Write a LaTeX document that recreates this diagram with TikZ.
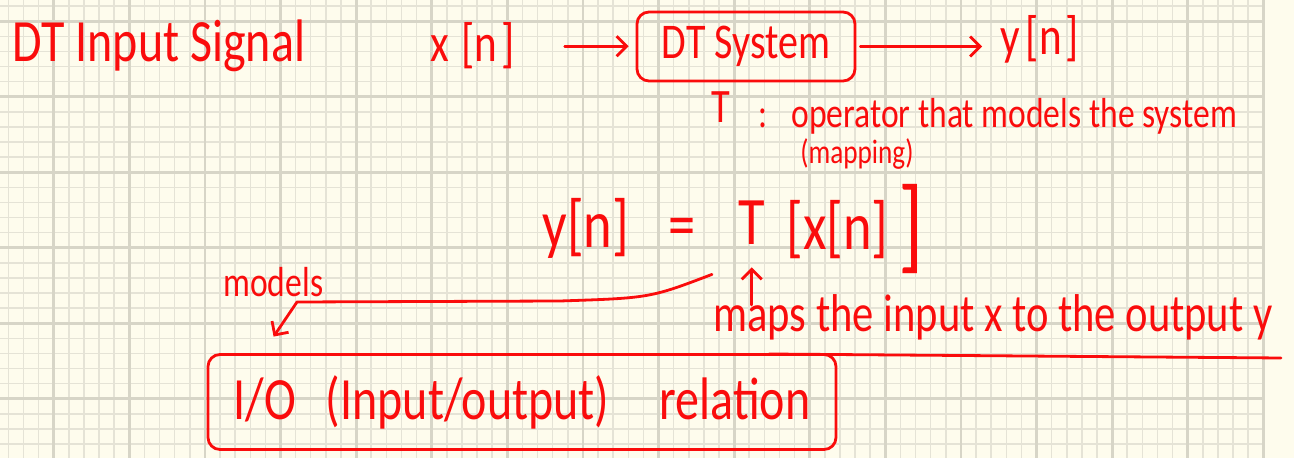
\documentclass[tikz,border=0pt]{standalone}
\usepackage{fontspec}
\newfontfamily\handfont[FakeStretch=0.8]{Carlito}
\newcommand\handsize[1]{\handfont\fontsize{#1}{#1}\selectfont}
\usetikzlibrary{arrows.meta,positioning}

\definecolor{paper}{RGB}{254,252,237}
\definecolor{gridminor}{RGB}{229,227,214}
\definecolor{gridmajor}{RGB}{215,213,199}
\definecolor{penred}{RGB}{250,12,12}

\tikzset{
	hand/.style={text=penred, inner sep=0pt, anchor=base west},
	pen/.style={draw=penred, line width=1.4pt, line cap=round, line join=round},
	barb/.style={pen, -{Straight Barb[length=5pt,width=10pt]}},
	boxed/.style={pen, rounded corners=6pt, text=penred, inner sep=0pt},
}

\begin{document}
\begin{tikzpicture}[x=0.5pt,y=-0.5pt]

		\fill[paper] (0,0) rectangle (1294,458);
		\useasboundingbox (0,0) rectangle (1294,458);

		\foreach \k in {0,...,83}
			\draw[gridminor, line width=0.75pt] ({1263.3-15.12*\k},0) -- ({1263.3-15.12*\k},458);
		\foreach \k in {-1,...,28}
			\draw[gridminor, line width=0.75pt] (0,{21.3+15.1*\k}) -- (1265,{21.3+15.1*\k});
		\foreach \k in {0,5,...,80}
			\draw[gridmajor, line width=1.4pt] ({1263.3-15.12*\k},0) -- ({1263.3-15.12*\k},458);
		\foreach \k in {0,5,...,25}
			\draw[gridmajor, line width=1.4pt] (0,{21.3+15.1*\k}) -- (1265,{21.3+15.1*\k});

		\node[hand, font=\handsize{30}] (title) at (12,62) {DT Input Signal};
		\node[hand, font=\handsize{27}] (xin) at (430,62) {x\hspace{6pt}[n\hspace{2pt}]};
		\node[boxed, minimum width=109pt, minimum height=34.5pt, font=\handsize{25}] (sys) at (746,46.5) {DT System};
		\node[hand, font=\handsize{27}] (yout) at (1000,55) {y\hspace{3pt}[n\hspace{2pt}]};

		\draw[barb, shorten <=25pt, shorten >=3.5pt] (xin.east) -- (xin.east -| sys.west);
		\draw[barb, shorten <=2pt, shorten >=9pt] (sys.east) -- (sys.east -| yout.west);

		\node[hand, font=\handsize{24}] (tsym) at (711,123) {T};
		\node[hand, font=\handsize{21}] (opdesc) at (758,128) {:\hspace{12pt}operator that models the system};
		\node[hand, font=\handsize{17}] (mapping) at (800,164) {(mapping)};

		\node[hand, font=\handsize{34}] (lhs) at (542,248) {y[n]};
		\node[hand, font=\handsize{34}] (eq) at (668,248) {=};
		\node[hand, font=\handsize{34}] (op) at (738,245) {T};
		\node[hand, font=\handsize{34}] (arg) at (786,250) {[x[n]\hspace{5pt}\raisebox{-5pt}{\handsize{52}]}};

		\node[hand, font=\handsize{26.6}] (maps) at (713,332) {maps the input x to the output y};
		\draw[barb, shorten <=13.5pt, shorten >=11pt] (op.south |- maps.base) -- (op.south);
		\draw[pen] ([shift={(28pt,-11pt)}]maps.base west) -- ([shift={(4pt,-13pt)}]maps.base east);

		\node[hand, font=\handsize{21}] (modlbl) at (223,297) {models};
		\node[boxed, minimum width=314pt, minimum height=47.5pt, font=\handsize{30}] (io) at (522,402) {I/O\hspace{15pt}(Input/output)\hspace{25pt}relation};
		\coordinate (mbend) at (297,302);
		\draw[barb] ([shift={(-13pt,-14.5pt)}]op.south west) .. controls (650,298) .. (560,301) -- (mbend) -- ([shift={(33.5pt,8.25pt)}]io.north west);

	\end{tikzpicture}
\end{document}
